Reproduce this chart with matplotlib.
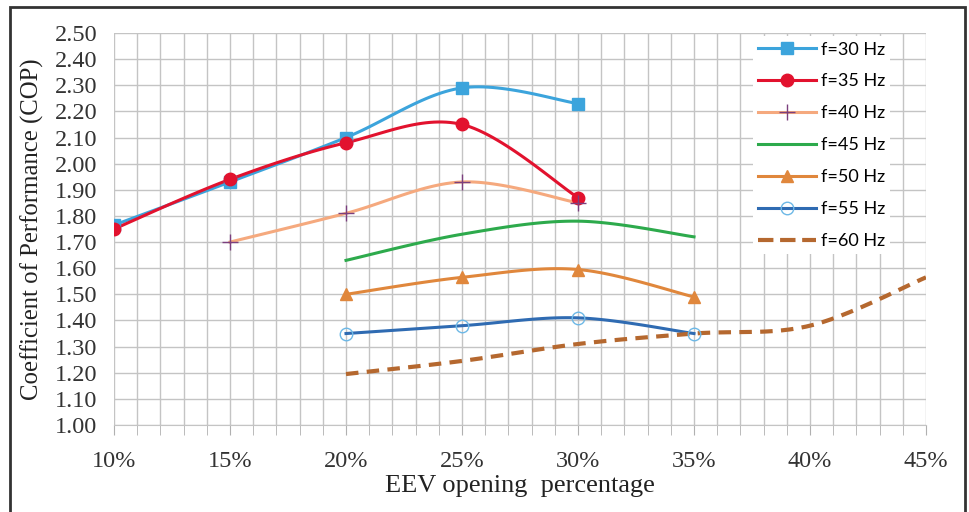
import numpy as np
import matplotlib
matplotlib.use("Agg")
import matplotlib.pyplot as plt
from matplotlib.patches import Rectangle
from matplotlib.ticker import MultipleLocator, FuncFormatter

# EEV opening (%) and COP per compressor frequency
x_30 = [10, 15, 20, 25, 30]
cop_30 = [1.765, 1.93, 2.10, 2.29, 2.23]
x_35 = [10, 15, 20, 25, 30]
cop_35 = [1.75, 1.94, 2.08, 2.15, 1.87]
x_40 = [15, 20, 25, 30]
cop_40 = [1.70, 1.81, 1.93, 1.85]
x_45 = [20, 25, 30, 35]
cop_45 = [1.63, 1.73, 1.78, 1.72]
x_50 = [20, 25, 30, 35]
cop_50 = [1.50, 1.565, 1.595, 1.49]
x_55 = [20, 25, 30, 35]
cop_55 = [1.35, 1.38, 1.41, 1.35]
x_60 = [20, 25, 30, 35, 40, 45]
cop_60 = [1.195, 1.245, 1.31, 1.35, 1.38, 1.565]


def smooth(xs, ys, n=30):
    # Excel-style smoothed line: cubic Bezier with Catmull-Rom control points
    xs = np.asarray(xs, float)
    ys = np.asarray(ys, float)
    P = np.column_stack([xs, ys])
    out = [P[0]]
    t = np.linspace(0, 1, n)[1:, None]
    for i in range(len(P) - 1):
        p0 = P[i - 1] if i > 0 else P[i]
        p1, p2 = P[i], P[i + 1]
        p3 = P[i + 2] if i + 2 < len(P) else P[i + 1]
        c1 = p1 + (p2 - p0) / 6
        c2 = p2 - (p3 - p1) / 6
        seg = ((1 - t) ** 3) * p1 + 3 * ((1 - t) ** 2) * t * c1 + 3 * (1 - t) * t ** 2 * c2 + t ** 3 * p2
        out.extend(seg)
    out = np.array(out)
    return out[:, 0], out[:, 1]


series = [
    (x_30, cop_30, "f=30 Hz", "#3CA4DC", dict(marker="s", ms=8, mfc="#3CA4DC", mec="#3CA4DC"), "-"),
    (x_35, cop_35, "f=35 Hz", "#E2122E", dict(marker="o", ms=9, mfc="#E2122E", mec="#E2122E"), "-"),
    (x_40, cop_40, "f=40 Hz", "#F5A97E", dict(marker="+", ms=11, mfc="none", mec="#7B3F7E", mew=1.0), "-"),
    (x_45, cop_45, "f=45 Hz", "#2DAA4C", dict(marker=None), "-"),
    (x_50, cop_50, "f=50 Hz", "#E0873C", dict(marker="^", ms=9, mfc="#E0873C", mec="#E0873C"), "-"),
    (x_55, cop_55, "f=55 Hz", "#2F6BB2", dict(marker="o", ms=9, mfc="none", mec="#6DB8E6", mew=1.0), "-"),
    (x_60, cop_60, "f=60 Hz", "#B5682F", dict(marker=None), "--"),
]

fig = plt.figure(figsize=(9.7, 5.12), dpi=100)
ax = fig.add_axes([114 / 970, 87 / 512, 812 / 970, 392 / 512])

for xs, ys, lab, col, mk, ls in series:
    sx, sy = smooth(xs, ys)
    lw = 3.0 if ls == "--" else 2.2
    ax.plot(sx, sy, color=col, lw=lw, ls=ls, dashes=(3, 2) if ls == "--" else (None, None), zorder=3)
    if mk.get("marker"):
        ax.plot(xs, ys, ls="none", zorder=4, **mk)
    # legend proxy
    ax.plot([], [], color=col, lw=lw, ls=ls, label=lab,
            **({k: v for k, v in mk.items()} if mk.get("marker") else {}))

ax.set_xlim(10, 45)
ax.set_ylim(1.0, 2.5)
ax.xaxis.set_major_locator(MultipleLocator(5))
ax.xaxis.set_minor_locator(MultipleLocator(1))
ax.yaxis.set_major_locator(MultipleLocator(0.1))
ax.xaxis.set_major_formatter(FuncFormatter(lambda v, p: f"{v:.0f}%"))
ax.yaxis.set_major_formatter(FuncFormatter(lambda v, p: f"{v:.2f}"))
ax.grid(which="both", color="#C4C4C4", lw=1.0)
ax.set_axisbelow(True)
for s in ["top", "right"]:
    ax.spines[s].set_visible(False)
ax.spines["left"].set_visible(False)
ax.spines["bottom"].set_color("#C4C4C4")
ax.tick_params(axis="x", which="both", length=7, color="#B0B0B0", pad=12)
ax.tick_params(axis="y", length=0, pad=12)

for t in ax.get_xticklabels() + ax.get_yticklabels():
    t.set_fontfamily("Liberation Serif")
    t.set_fontsize(17.5)
    t.set_color("#333333")
ax.set_xlabel("EEV opening  percentage", family="Liberation Serif", fontsize=19, color="#222222", labelpad=2)
ax.set_ylabel("Coefficient of Performance (COP)", family="Liberation Serif", fontsize=17.8, color="#222222", labelpad=8)

leg = ax.legend(loc="upper left", bbox_to_anchor=(630 / 812, 1.015), prop={"family": "Lato", "size": 13},
                handlelength=3.2, labelspacing=0.88, handletextpad=0.25, borderpad=0.3,
                fancybox=False, framealpha=1.0, edgecolor="white")
leg.get_frame().set_linewidth(0.0)

fig.patches.append(Rectangle((10 / 970, -10 / 512), 955 / 970, 515 / 512, transform=fig.transFigure,
                             fill=False, ec="#333333", lw=2.0))

fig.savefig("out.png", dpi=100)
